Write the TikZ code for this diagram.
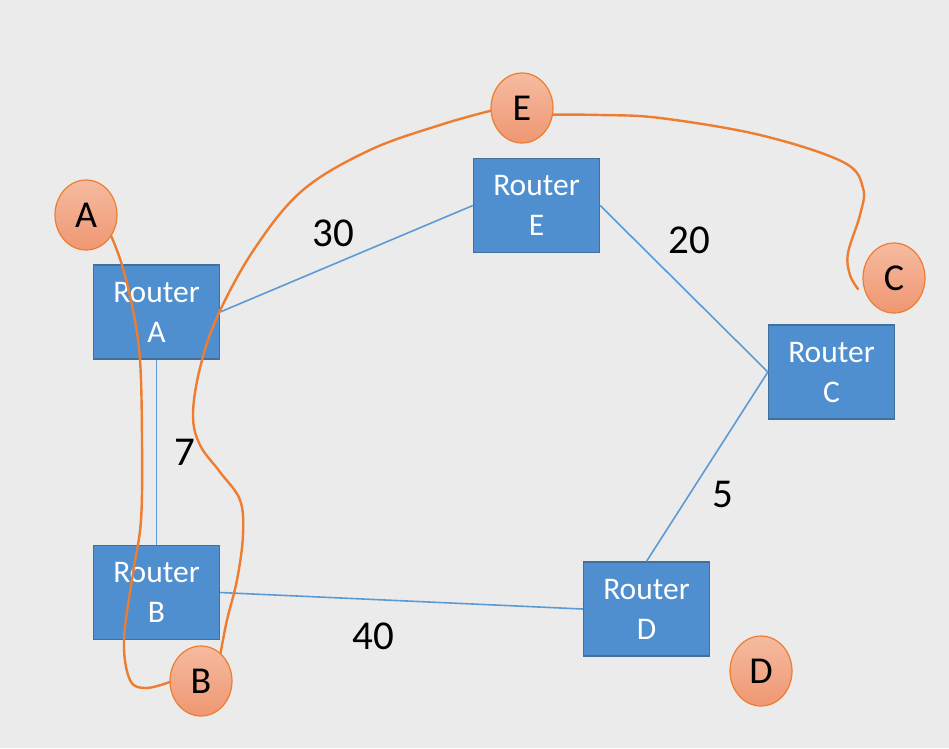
\documentclass[tikz,border=0pt]{standalone}
\usepackage{fontspec}
\setmainfont{Carlito}
\usetikzlibrary{shapes.geometric}
\definecolor{bg}{HTML}{EBEBEB}
\definecolor{rfill}{HTML}{4F8FCF}
\definecolor{rborder}{HTML}{41709C}
\definecolor{link}{HTML}{5B9BD5}
\definecolor{path}{HTML}{ED7D31}
\definecolor{ctop}{HTML}{F5BBA0}
\definecolor{cbot}{HTML}{EF9772}
\begin{document}
\begin{tikzpicture}[x=1pt,y=-1pt,
  router/.style={draw=rborder, line width=1.3pt, fill=rfill, minimum width=126pt, minimum height=94pt, inner sep=0pt, text=white, align=center, font=\fontsize{31.5}{40}\selectfont},
  dest/.style={ellipse, draw=path, line width=1.2pt, top color=ctop, bottom color=cbot, minimum width=62pt, minimum height=70pt, inner sep=0pt, font=\fontsize{38}{40}\selectfont},
  cost/.style={font=\fontsize{41}{44}\selectfont, inner sep=0pt},
  linkline/.style={draw=link, line width=1.6pt},
  route/.style={draw=path, line width=2.4pt, line cap=round}]
\fill[bg] (0,0) rectangle (949,748);
\useasboundingbox (0,0) rectangle (949,748);

\node[router] (rA) at (156.5,312) {Router\\A};
\node[router] (rB) at (156.5,592.5) {Router\\B};
\node[router] (rE) at (536.5,205.5) {Router\\E};
\node[router] (rC) at (831.5,372) {Router\\C};
\node[router] (rD) at (646.5,609) {Router\\D};

\draw[linkline] (rA.east) -- (rE.west);
\draw[linkline] (rE.east) -- (rC.west);
\draw[linkline] (rC.west) -- (rD.north);
\draw[linkline] (rA.south) -- (rB.north);
\draw[linkline] (rB.east) -- (rD.west);

\node[cost] (l30) at (333,233) {30};
\node[cost] (l20) at (689,240) {20};
\node[cost] (l7) at (185,452) {7};
\node[cost] (l5) at (723,494) {5};
\node[cost] (l40) at (373,636) {40};

\node[dest] (cA) at (86,215) {A};
\node[dest] (cE) at (522,108) {E};
\node[dest] (cC) at (894,278) {C};
\node[dest] (cB) at (201,681) {B};
\node[dest] (cD) at (761,671) {D};
\coordinate (cend) at (858,289);

\draw[route] plot[smooth, tension=0.6] coordinates {(cA.-40) (122,265) (133,310) (140,360) (142,440) (141,520) (133,573) (124,640) (130,680) (146,688) (cB.182)};
\draw[route] plot[smooth, tension=0.6] coordinates {(cB.55) (227,620) (237,580) (243,535) (240,500) (220,472) (200,445) (193,415) (200,368) (218,315) (255,248) (303,190) (370,150) (440,125) (cE.185)};
\draw[route] plot[smooth, tension=0.6] coordinates {(cE.-12) (600,115) (660,118) (760,135) (843,162) (863,188) (860,215) (848,253) (850,275) (cend)};
\end{tikzpicture}
\end{document}
